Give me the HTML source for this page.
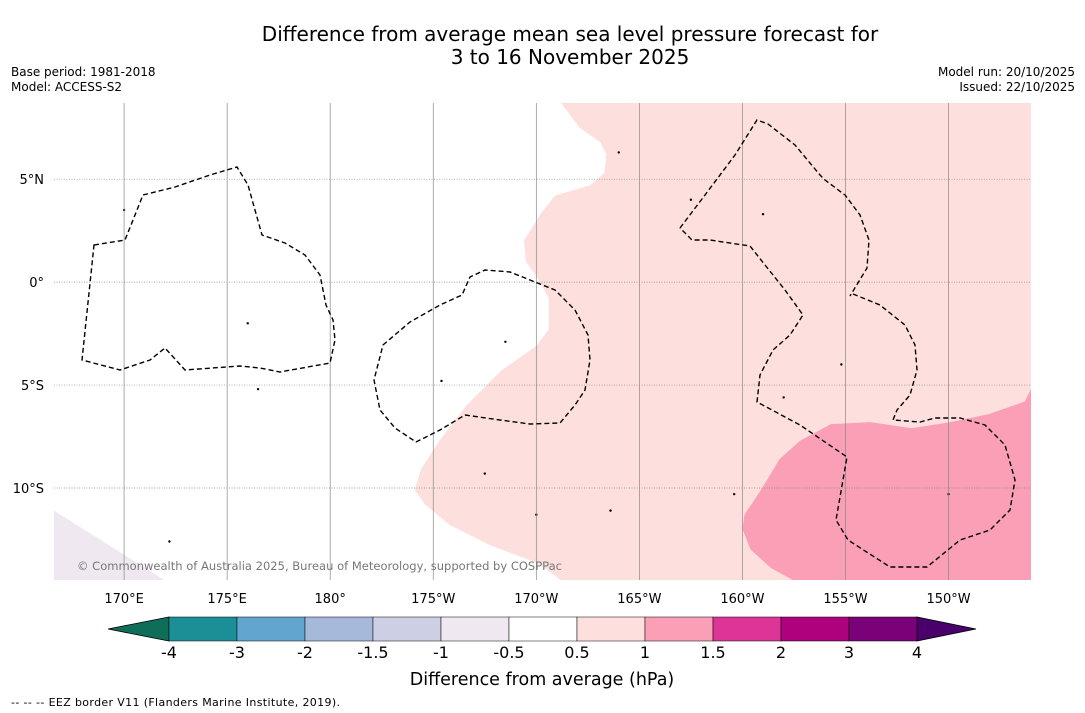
<!DOCTYPE html>
<html><head><meta charset="utf-8"><style>
body{margin:0;background:#fff;font-family:"Liberation Sans","DejaVu Sans",sans-serif;}
svg{display:block}
</style></head><body>
<svg id="c" width="1085" height="713" viewBox="0 0 1085 713" font-family="DejaVu Sans, Liberation Sans, sans-serif">
<text x="570" y="41" font-size="20" text-anchor="middle">Difference from average mean sea level pressure forecast for</text>
<text x="570" y="64" font-size="20" text-anchor="middle">3 to 16 November 2025</text>
<text x="11" y="76" font-size="12">Base period: 1981-2018</text>
<text x="11" y="91" font-size="12">Model: ACCESS-S2</text>
<text x="1075" y="76" font-size="12" text-anchor="end">Model run: 20/10/2025</text>
<text x="1075" y="91" font-size="12" text-anchor="end">Issued: 22/10/2025</text>
<g id="map"></g>
<g id="eez" fill="none" stroke="#000" stroke-width="1.4" stroke-dasharray="5,3">
<path d="M94,245 L125,240 L143,195 L175,187 L210,175 L237,167 L248,185 L262,235 L285,243 L305,255 L320,275 L326,305 L333,320 L335,340 L330,363 L280,372 L260,368 L240,366 L185,370 L165,348 L150,360 L120,370 L82,360 Z"/>
<path d="M383,345 L410,322 L440,305 L462,295 L470,277 L485,270 L510,272 L530,280 L555,290 L575,310 L588,335 L590,360 L585,390 L575,405 L560,423 L530,424 L500,420 L465,415 L440,430 L416,442 L395,428 L380,410 L374,380 Z"/>
<path d="M680,228 L705,195 L735,155 L757,120 L768,124 L795,145 L820,175 L825,180 L845,195 L860,215 L869,240 L867,268 L850,296 M853,294 L880,305 L905,325 L915,345 L917,370 L910,395 L897,410 L893,420 L920,422 L935,418 L960,418 L985,425 L1005,445 L1015,480 L1010,510 L990,530 L960,540 L927,567 L890,567 L848,540 L836,520 L847,457 L800,425 L757,402 L760,375 L773,350 L790,335 L803,315 L785,290 L765,265 L750,246 L710,240 L692,240 L680,228"/>
</g>
<text x="77" y="570" font-size="11.5" fill="#777" textLength="485">© Commonwealth of Australia 2025, Bureau of Meteorology, supported by COSPPac</text>
<g id="cbar"></g>
<text x="542" y="685" font-size="17.5" text-anchor="middle">Difference from average (hPa)</text>
<text x="11" y="706" font-size="11" textLength="329">--  --  -- EEZ border V11 (Flanders Marine Institute, 2019).</text>
</svg>
<script>
const lonTicks=[170,175,180,185,190,195,200,205,210];
const lonLabels=["170°E","175°E","180°","175°W","170°W","165°W","160°W","155°W","150°W"];
const latTicks=[5,0,-5,-10];
const latLabels=["5°N","0°","5°S","10°S"];
const levels=[-4,-3,-2,-1.5,-1,-0.5,0.5,1,1.5,2,3,4];
const levelColors=["#1b8f96","#62a6d0","#a6b9da","#cdd0e5","#efe8f1","#ffffff","#fde0dd","#fa9fb5","#dd3497","#ae017e","#7a0177"];
const lowColor="#0f6e5a", highColor="#49006a";
const regionLight=[[191.2,8.7],[192.1,7.5],[193.1,6.8],[193.4,6.2],[193.3,5.3],[192.6,4.7],[190.9,4.2],[190.2,3.3],[189.4,2.0],[189.5,1.0],[190.2,0],[190.6,-0.8],[190.6,-2.3],[190.0,-3.1],[188.3,-4.3],[186.6,-6.0],[185.3,-7.7],[184.4,-9.1],[184.1,-10.1],[184.6,-10.8],[185.8,-11.8],[187.8,-12.8],[190.2,-13.7],[191.2,-14.5],[214,-14.5],[214,8.7]];
const regionDark=[[214,-5.2],[213.7,-5.8],[212.0,-6.4],[210.1,-6.8],[208.2,-7.1],[206.2,-6.8],[204.3,-6.9],[202.8,-7.7],[201.8,-8.6],[200.9,-10.1],[200.1,-11.3],[200.0,-12.0],[200.4,-13.0],[201.4,-13.9],[202.5,-14.5],[214,-14.5]];
const regionLav=[[166.6,-11.1],[172.0,-14.5],[166.6,-14.5]];
const NS="http://www.w3.org/2000/svg";
const X0=54,X1=1031,Y0=103,Y1=580;
const lonMin=166.6,lonMax=214.0,latMax=8.7,latMin=-14.47;
const px=l=>X0+(l-lonMin)/(lonMax-lonMin)*(X1-X0);
const py=l=>Y0+(latMax-l)/(latMax-latMin)*(Y1-Y0);
function mk(t,a,p){const e=document.createElementNS(NS,t);for(const k in a)e.setAttribute(k,a[k]);p.appendChild(e);return e;}
const map=document.getElementById('map');
const clip=mk('clipPath',{id:'mc'},map);mk('rect',{x:X0,y:Y0,width:X1-X0,height:Y1-Y0},clip);
const g=mk('g',{'clip-path':'url(#mc)'},map);
function poly(pts,fill,name){const p=mk('polygon',{points:pts.map(d=>px(d[0])+','+py(d[1])).join(' '),fill:fill},g);

}
poly(regionLight,levelColors[6],'anomaly-0.5-1');
poly(regionDark,levelColors[7],'anomaly-1-1.5');
poly(regionLav,levelColors[4],'anomaly-neg1-neg0.5');
lonTicks.forEach((l,i)=>{const x=px(l);
const ln=mk('line',{x1:x,x2:x,y1:Y0,y2:Y1,stroke:'#888','stroke-width':0.7},map);


const t=mk('text',{x:x,y:603,'font-size':13,'text-anchor':'middle'},map);t.textContent=lonLabels[i];

});
latTicks.forEach((l,i)=>{const y=py(l);
const ln=mk('line',{x1:X0,x2:X1,y1:y,y2:y,stroke:'#888','stroke-width':0.7,'stroke-dasharray':'1,1.5'},map);


const t=mk('text',{x:44,y:y+5,'font-size':13,'text-anchor':'end'},map);t.textContent=latLabels[i];

});
const isl=[[176.5,-5.2],[176,-2],[185.4,-4.8],[188.5,-2.9],[193.6,-11.1],[197.5,4],[199.6,-10.3],[202,-5.6],[204.8,-4],[210,-10.3],[194,6.3],[201,3.3],[170,3.5],[187.5,-9.3],[190,-11.3],[172.2,-12.6]];
isl.forEach(d=>{const c=mk('circle',{cx:px(d[0]),cy:py(d[1]),r:1.2,fill:'#000'},g);

});
const cb=document.getElementById('cbar');
const bx0=169,bx1=917,by=617,bh=24,n=levelColors.length,bw=(bx1-bx0)/n;
const la=mk('polygon',{points:`108,${by+bh/2} ${bx0},${by} ${bx0},${by+bh}`,fill:lowColor,stroke:'#000','stroke-width':0.8},cb);


const ra=mk('polygon',{points:`976,${by+bh/2} ${bx1},${by} ${bx1},${by+bh}`,fill:highColor,stroke:'#000','stroke-width':0.8},cb);


levelColors.forEach((c,i)=>{const r=mk('rect',{x:bx0+i*bw,y:by,width:bw,height:bh,fill:c,stroke:'#000','stroke-width':0.5},cb);

});
levels.forEach((v,i)=>{const t=mk('text',{x:bx0+i*bw,y:658,'font-size':16,'text-anchor':'middle'},cb);t.textContent=v;

});
</script>
</body></html>
